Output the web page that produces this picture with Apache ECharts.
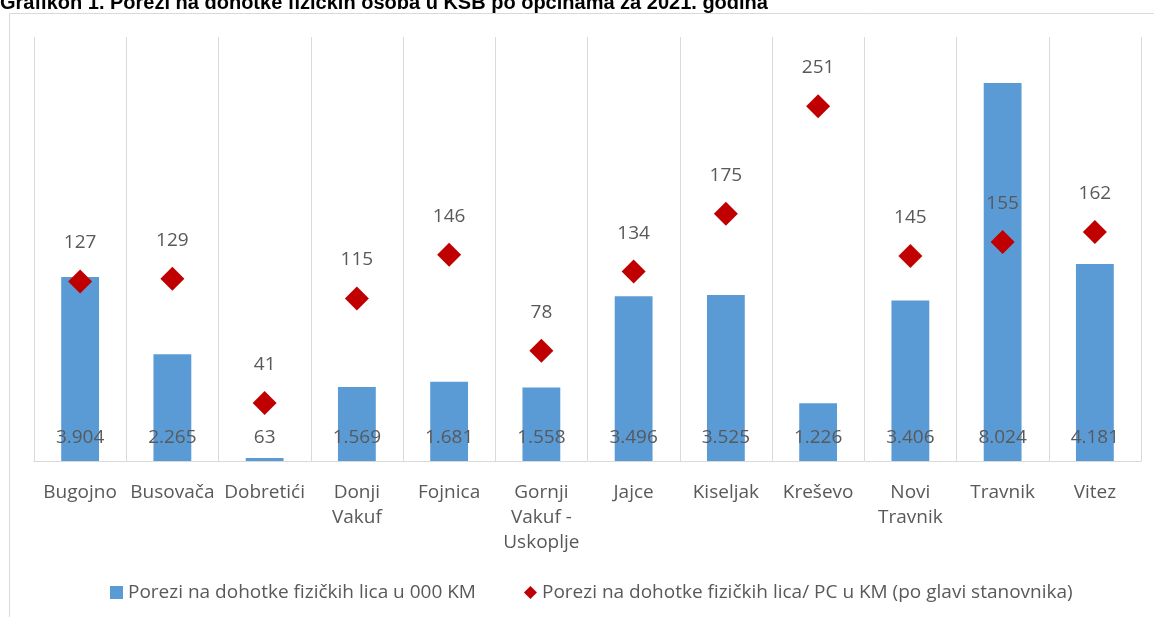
<!DOCTYPE html>
<html>
<head>
<meta charset="utf-8">
<script src="https://cdn.jsdelivr.net/npm/echarts@6/dist/echarts.min.js"></script>
<style>
html,body{margin:0;padding:0;background:#fff;}
#c{width:1154px;height:617px;}
</style>
</head>
<body>
<div id="c"></div>
<script>
var categories = ['Bugojno','Busovača','Dobretići','Donji\nVakuf','Fojnica','Gornji\nVakuf -\nUskoplje','Jajce','Kiseljak','Kreševo','Novi\nTravnik','Travnik','Vitez'];
var taxTotal = [3904,2265,63,1569,1681,1558,3496,3525,1226,3406,8024,4181];
var taxPerCapita = [127,129,41,115,146,78,134,175,251,145,155,162];
var seriesNames = ['Porezi na dohotke fizičkih lica u 000 KM','Porezi na dohotke fizičkih lica/ PC u KM (po glavi stanovnika)'];
var titleText = 'Grafikon 1. Porezi na dohotke fizičkih osoba u KSB po općinama za 2021. godina';

function fmt(v){ return String(v).replace(/\B(?=(\d{3})+(?!\d))/g,'.'); }

var chart = echarts.init(document.getElementById('c'));
var font = '"Open Sans", Lato, sans-serif';
chart.setOption({
  animation:false,
  backgroundColor:'#fff',
  title:{text:titleText,left:-5,top:-12,textStyle:{fontFamily:'"Liberation Sans", Arial, sans-serif',fontWeight:'bold',fontSize:20,color:'#000'}},
  graphic:[{type:'rect',z:-1,shape:{x:9.5,y:13.5,width:1300,height:800},style:{fill:'none',stroke:'#d9d9d9',lineWidth:1}}],
  legend:{
    bottom:10,left:105,itemGap:48,itemWidth:13,itemHeight:13,
    textStyle:{fontFamily:font,fontSize:19,color:'#595959'},
    data:[{name:seriesNames[0],icon:'rect'},{name:seriesNames[1],icon:'diamond'}]
  },
  grid:{left:34,right:13,top:37,bottom:156,containLabel:false},
  xAxis:{
    type:'category',data:categories,
    axisLine:{lineStyle:{color:'#d9d9d9'}},
    axisTick:{show:false},
    splitLine:{show:true,lineStyle:{color:'#d9d9d9'}},
    axisLabel:{interval:0,color:'#595959',fontFamily:font,fontSize:19,lineHeight:25,margin:19}
  },
  yAxis:[
    {type:'value',min:0,max:9000,show:false,splitLine:{show:false}},
    {type:'value',min:0,max:300,show:false,splitLine:{show:false}}
  ],
  series:[
    {name:seriesNames[0],type:'bar',data:taxTotal,barWidth:'41%',yAxisIndex:0,
     itemStyle:{color:'#5b9bd5'},
     label:{show:true,position:'insideBottom',distance:14,color:'#595959',fontFamily:font,fontSize:19,formatter:function(p){return fmt(p.value);}}},
    {name:seriesNames[1],type:'scatter',data:taxPerCapita,yAxisIndex:1,symbol:'diamond',symbolSize:24,
     itemStyle:{color:'#c00000',opacity:1},
     label:{show:true,position:'top',distance:17,color:'#595959',fontFamily:font,fontSize:19}}
  ]
});
</script>
</body>
</html>
